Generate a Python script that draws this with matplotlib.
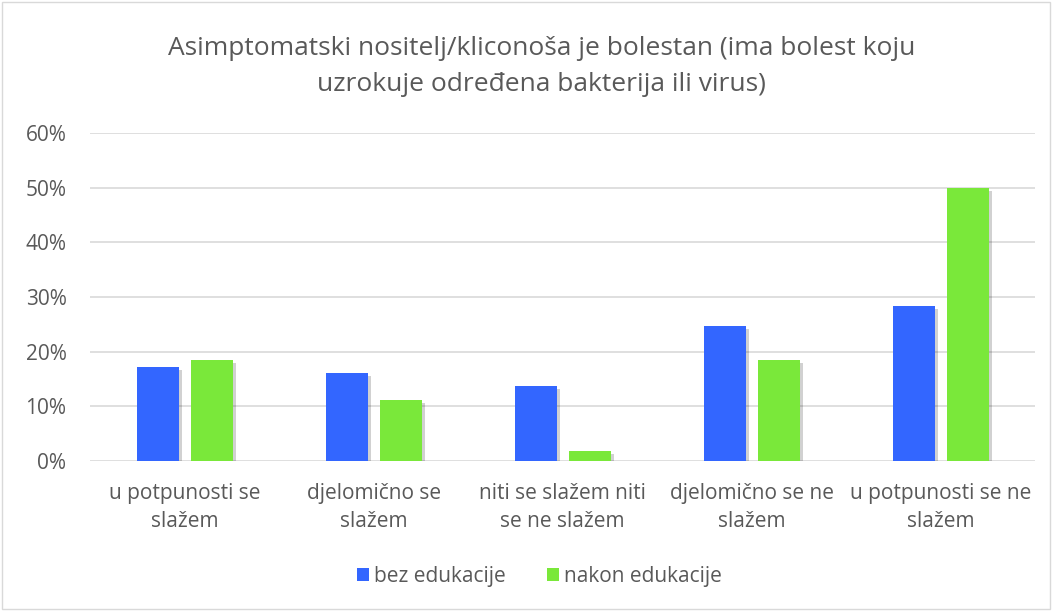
import matplotlib.pyplot as plt
import matplotlib.patheffects as pe
import numpy as np

categories = ['u potpunosti se\nslažem', 'djelomično se\nslažem', 'niti se slažem niti\nse ne slažem',
              'djelomično se ne\nslažem', 'u potpunosti se ne\nslažem']
bez = [17.2, 16.1, 13.7, 24.7, 28.4]
nakon = [18.5, 11.1, 1.8, 18.5, 50.0]
yticks = [0, 10, 20, 30, 40, 50, 60]

plt.rcParams['font.family'] = ['Open Sans', 'DejaVu Sans']
txt = '#595959'

fig = plt.figure(figsize=(10.52, 6.11), dpi=100)
ax = fig.add_axes([0.0856, 0.2455, 0.8984, 0.5365])

x = np.arange(len(categories))
shadow = [pe.SimplePatchShadow(offset=(2.5, -2), shadow_rgbFace='#000000', alpha=0.18), pe.Normal()]
b1 = ax.bar(x - 0.143, bez, width=0.222, color='#3366ff', label='bez edukacije', zorder=3)
b2 = ax.bar(x + 0.143, nakon, width=0.222, color='#7ae83a', label='nakon edukacije', zorder=3)
for b in list(b1) + list(b2):
    b.set_path_effects(shadow)

ax.set_xlim(-0.5, len(categories) - 0.5)
ax.set_ylim(0, 60)
ax.set_yticks(yticks)
ax.set_yticklabels([f'{v}%' for v in yticks], color=txt, fontsize=15)
ax.set_xticks(x)
ax.set_xticklabels(categories, color=txt, fontsize=15, linespacing=1.4)
ax.tick_params(length=0, pad=16)
ax.tick_params(axis='y', pad=17)
ax.grid(axis='y', color='#d9d9d9', linewidth=1.2, zorder=0)
for s in ax.spines.values():
    s.set_visible(False)

fig.text(0.515, 0.891, 'Asimptomatski nositelj/kliconoša je bolestan (ima bolest koju\nuzrokuje određena bakterija ili virus)',
         ha='center', va='center', fontsize=19, color=txt, linespacing=1.55)

leg = ax.legend(loc='center', bbox_to_anchor=(0.513, 0.057), bbox_transform=fig.transFigure, ncol=2, frameon=False,
                fontsize=15, labelcolor=txt, handlelength=0.55, handleheight=0.55, handletextpad=0.25, columnspacing=2.0)
for h in leg.legend_handles:
    h.set_path_effects([])

border = plt.Rectangle((0.002, 0.003), 0.996, 0.994, transform=fig.transFigure, fill=False,
                       edgecolor='#d9d9d9', linewidth=1)
fig.patches.append(border)

fig.savefig('out.png', dpi=100)
